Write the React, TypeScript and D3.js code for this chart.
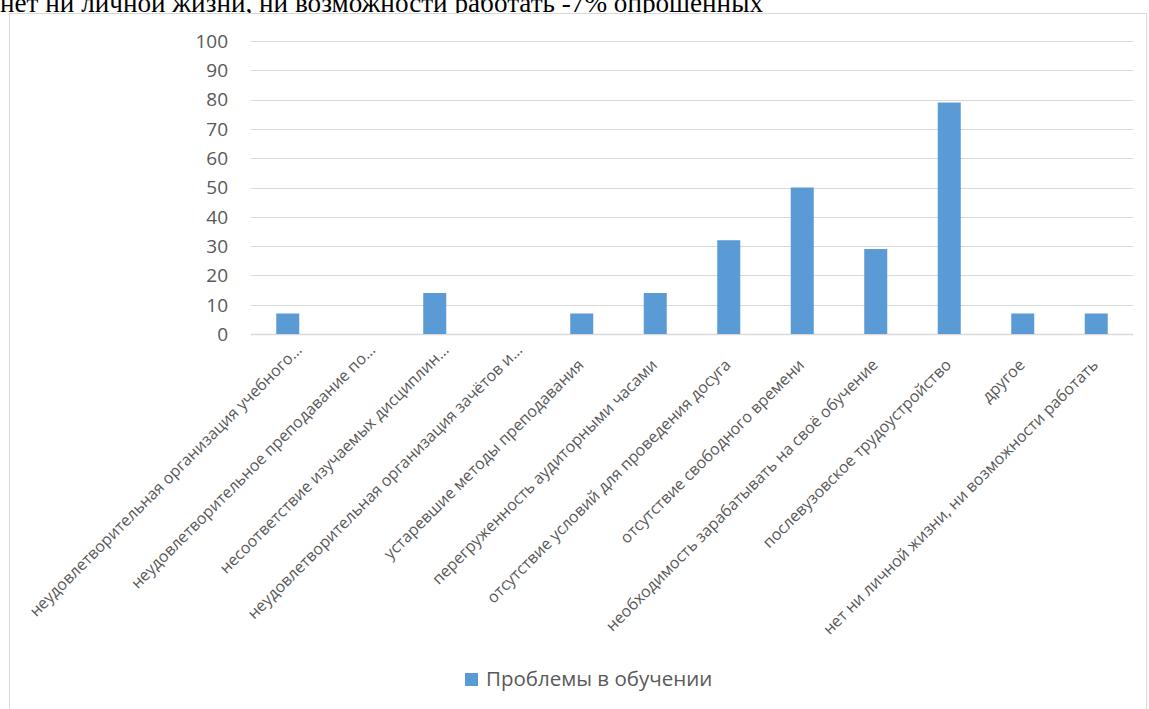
import React from "react";
import * as d3 from "d3";

const categories: string[] = [
  "неудовлетворительная организация учебного…",
  "неудовлетворительное преподавание по…",
  "несоответствие изучаемых дисциплин…",
  "неудовлетворительная организация зачётов и…",
  "устаревшие методы преподавания",
  "перегруженность аудиторными часами",
  "отсутствие условий для проведения досуга",
  "отсутствие свободного времени",
  "необходимость зарабатывать на своё обучение",
  "послевузовское трудоустройство",
  "другое",
  "нет ни личной жизни, ни возможности работать",
];
const truncated: boolean[] = [true, true, true, true, false, false, false, false, false, false, false, false];
const values: number[] = [7, 0, 14, 0, 7, 14, 32, 50, 29, 79, 7, 7];
const yTicks: number[] = [0, 10, 20, 30, 40, 50, 60, 70, 80, 90, 100];
const seriesName = "Проблемы в обучении";
const titleText = "нет ни личной жизни, ни возможности работать -7% опрошенных";

const W = 1149;
const H = 709;
const plot = { left: 251, right: 1133, top: 41, bottom: 334 };
const BAR = "#5B9BD5";
const GRID = "#D9D9D9";
const TXT = "#595959";
const FONT = "'Open Sans', 'Noto Sans', sans-serif";

export default function App() {
  const x = d3
    .scaleBand<number>()
    .domain(d3.range(categories.length))
    .range([plot.left, plot.right])
    .paddingInner(0.687)
    .paddingOuter(0.687 / 2);
  const y = d3.scaleLinear().domain([0, 100]).range([plot.bottom, plot.top]);
  const bw = x.bandwidth();

  return (
    <svg
      width={W}
      height={H}
      style={{ position: "absolute", left: 0, top: 0, background: "#fff" }}
    >
      <text
        x={0}
        y={12}
        fontFamily="'Liberation Serif', 'Times New Roman', serif"
        fontSize={27}
        fill="#000"
        textLength={763}
        lengthAdjust="spacingAndGlyphs"
      >
        {titleText}
      </text>
      <rect x={9.5} y={13.5} width={1137} height={720} fill="#fff" stroke={GRID} strokeWidth={1} />
      {yTicks.map((t) => (
        <g key={t}>
          <line
            x1={plot.left}
            x2={plot.right}
            y1={Math.round(y(t)) + 0.5}
            y2={Math.round(y(t)) + 0.5}
            stroke={GRID}
            strokeWidth={t === 0 ? 1.5 : 1}
          />
          <text
            x={228}
            y={y(t)}
            dy="0.36em"
            textAnchor="end"
            fontFamily={FONT}
            fontSize={19}
            fill={TXT}
          >
            {t}
          </text>
        </g>
      ))}
      {values.map((v, i) => (
        <rect
          key={i}
          x={(x(i) as number)}
          y={y(v)}
          width={bw}
          height={y(0) - y(v)}
          fill={BAR}
        />
      ))}
      {categories.map((c, i) => {
        const cx = (x(i) as number) + bw / 2;
        const ax = truncated[i] ? cx + 15 : cx + 3;
        const ay = truncated[i] ? 351 : 366;
        return (
          <text
            key={i}
            transform={`translate(${ax},${ay}) rotate(-45)`}
            textAnchor="end"
            fontFamily={FONT}
            fontSize={16}
            fill={TXT}
          >
            {c}
          </text>
        );
      })}
      <rect x={465} y={673} width={13} height={13} fill={BAR} />
      <text x={486} y={686} fontFamily={FONT} fontSize={20.5} fill={TXT}>
        {seriesName}
      </text>
    </svg>
  );
}
